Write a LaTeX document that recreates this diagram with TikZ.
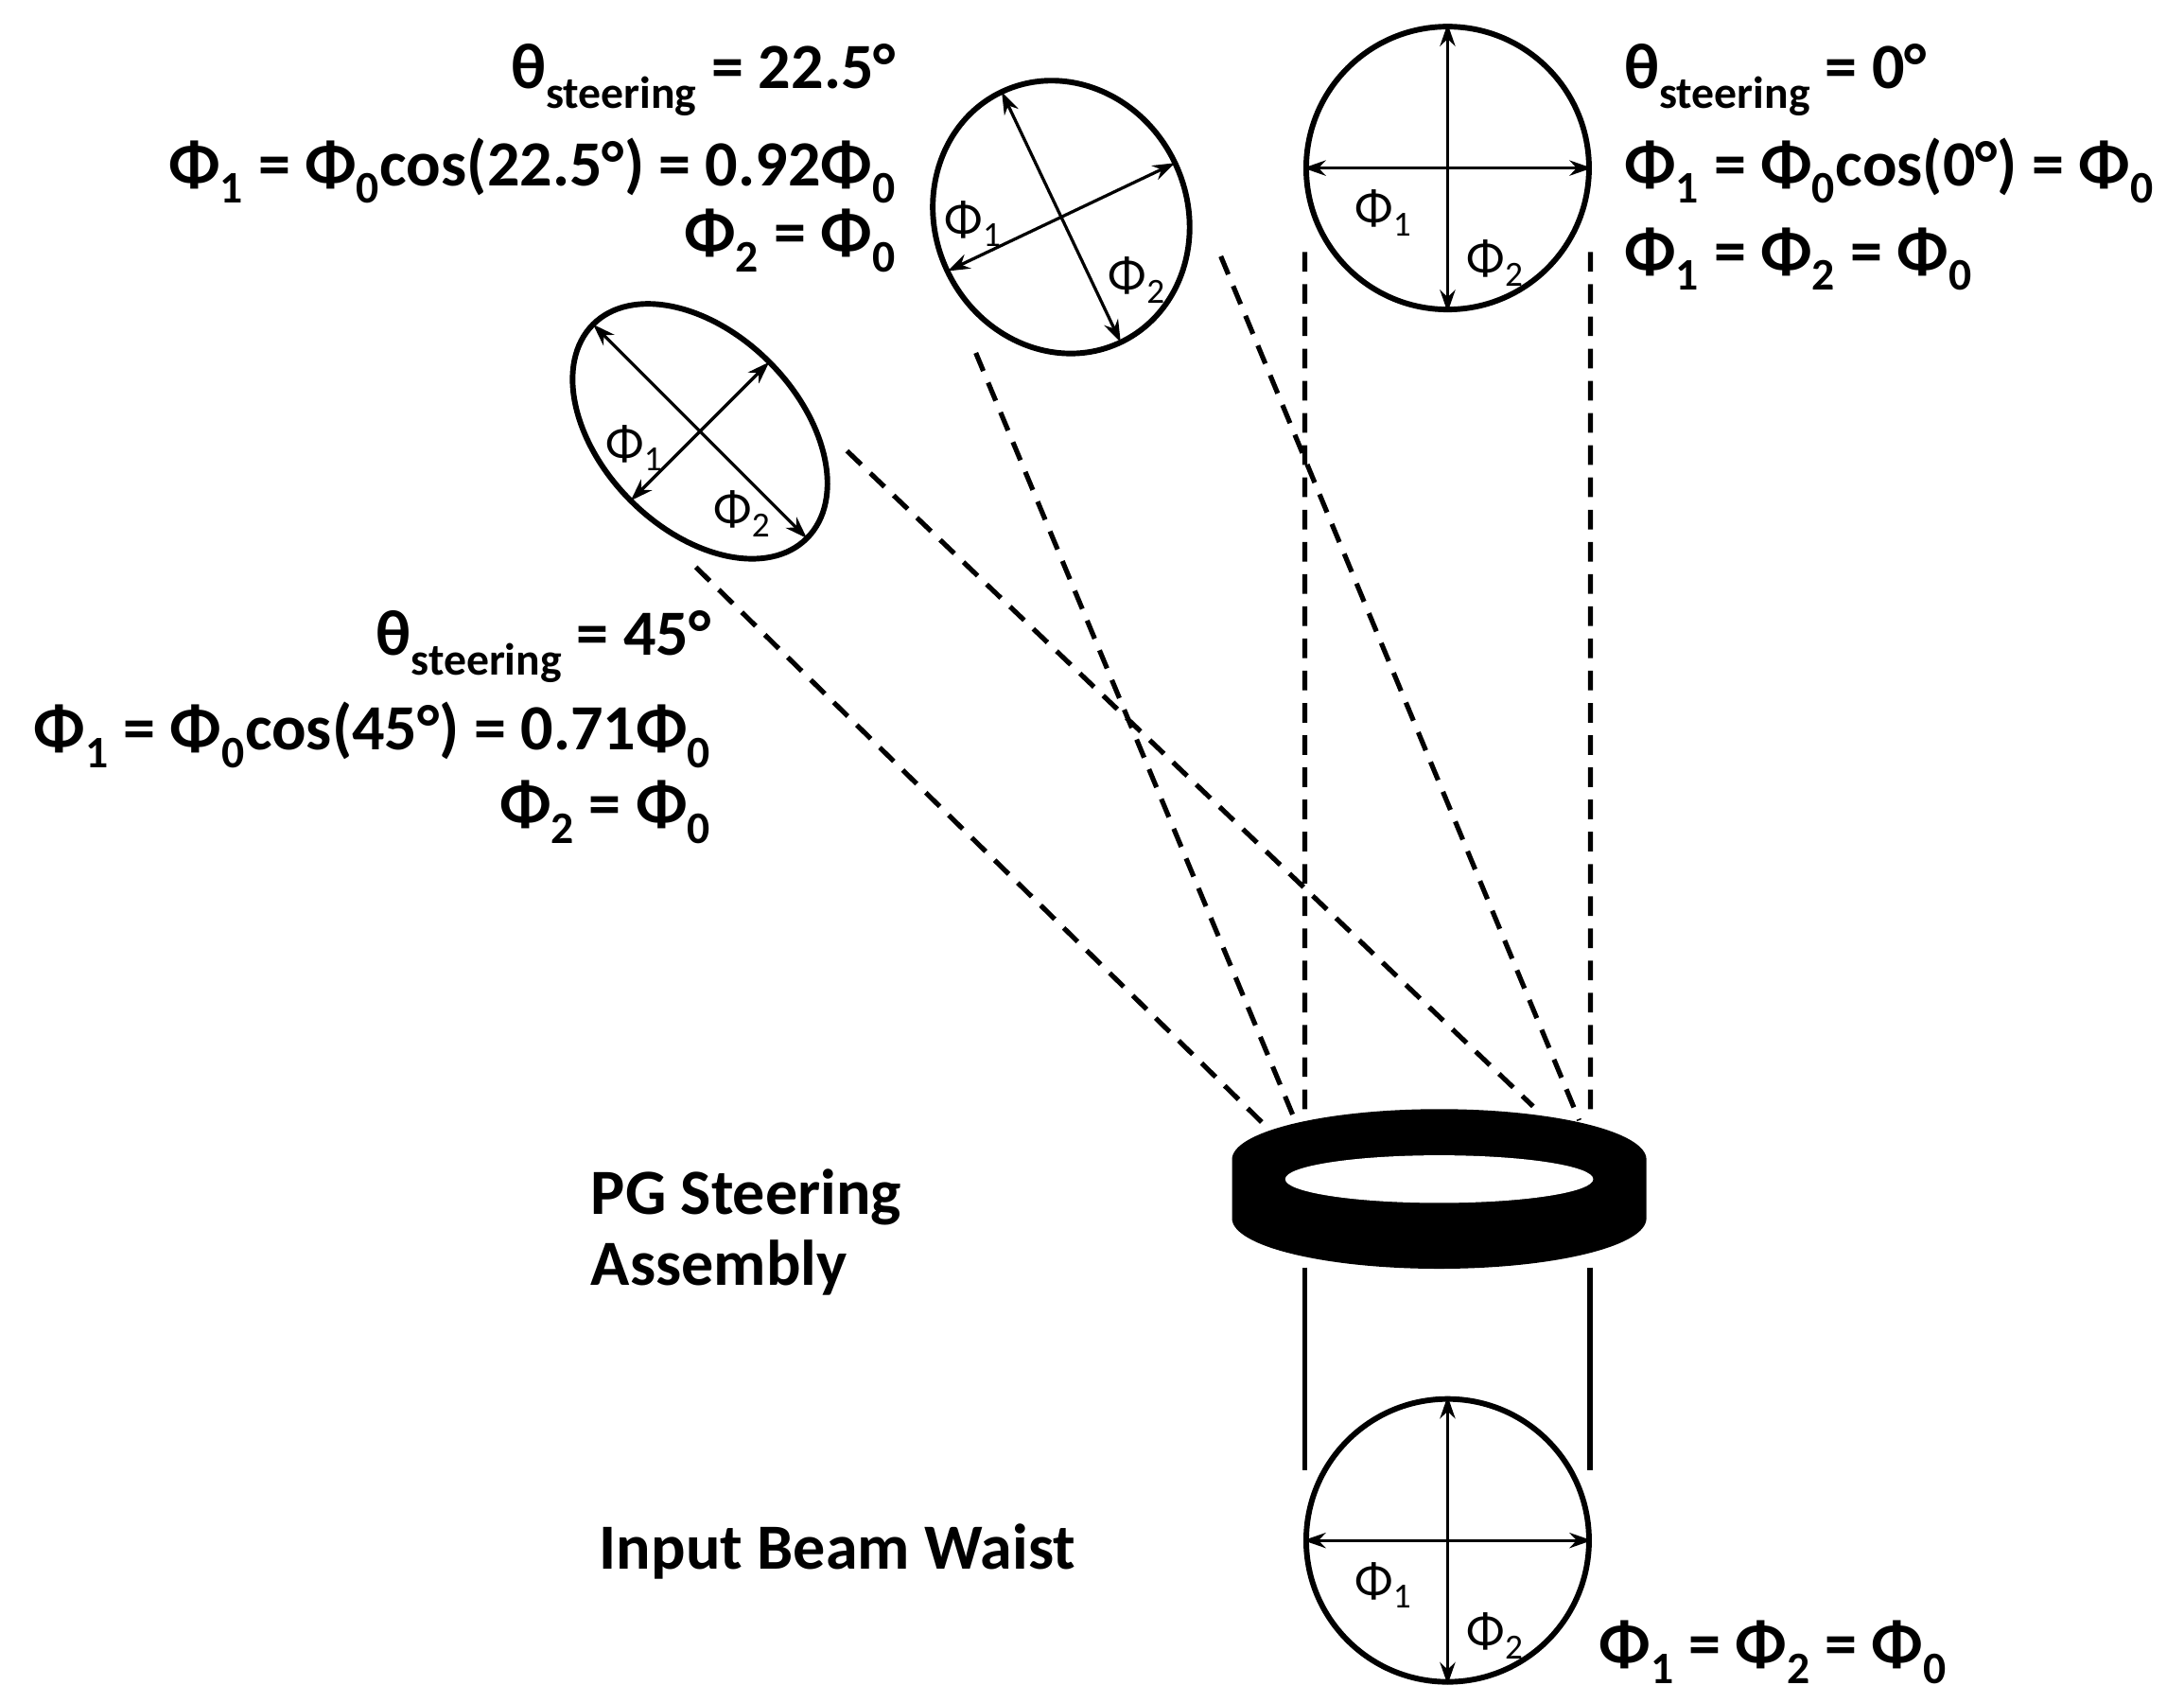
\documentclass[tikz,border=0pt]{standalone}
\usepackage{fontspec}
\setmainfont{Carlito}
\usetikzlibrary{arrows.meta}
\begin{document}
\begin{tikzpicture}[x=1pt,y=-1pt,
  lab/.style={font=\fontsize{46}{52}\selectfont\bfseries,inner sep=0pt},
  sm/.style={font=\fontsize{36}{40}\selectfont,inner sep=0pt},
  beam/.style={line width=4pt},
  arr/.style={line width=2.2pt,{Stealth[length=16pt,width=11pt]}-{Stealth[length=16pt,width=11pt]}},
  dsh/.style={line width=3.5pt,dash pattern=on 14pt off 9pt}]
\useasboundingbox (0,0) rectangle (1560,1216);
% top-right circle
\node[draw,beam,circle,minimum size=202pt] (c0) at (1034,120) {};
\draw[arr] (c0.north) -- (c0.south);
\draw[arr] (c0.west) -- (c0.east);
\node[sm] at (988,152) {Φ\textsubscript{1}};
\node[sm] at (1068,188) {Φ\textsubscript{2}};
% bottom circle
\node[draw,beam,circle,minimum size=202pt] (cb) at (1034,1100) {};
\draw[arr] (cb.north) -- (cb.south);
\draw[arr] (cb.west) -- (cb.east);
\node[sm] at (988,1132) {Φ\textsubscript{1}};
\node[sm] at (1068,1168) {Φ\textsubscript{2}};
% 22.5 ellipse
\begin{scope}[shift={(758,155)},rotate=-64.6]
\draw[beam] (0,0) ellipse [x radius=99,y radius=90];
\coordinate (m1) at (-99,0); \coordinate (m2) at (99,0);
\coordinate (m3) at (0,-90); \coordinate (m4) at (0,90);
\draw[arr] (m1) -- (m2);
\draw[arr] (m3) -- (m4);
\end{scope}
\node[sm] at (695,160) {Φ\textsubscript{1}};
\node[sm] at (812,200) {Φ\textsubscript{2}};
% 45 ellipse
\begin{scope}[shift={(500,308)},rotate=-45]
\draw[beam] (0,0) ellipse [x radius=108,y radius=70];
\coordinate (l1) at (-108,0); \coordinate (l2) at (108,0);
\coordinate (l3) at (0,-70); \coordinate (l4) at (0,70);
\draw[arr] (l1) -- (l2);
\draw[arr] (l3) -- (l4);
\end{scope}
\node[sm] at (453,320) {Φ\textsubscript{1}};
\node[sm] at (530,367) {Φ\textsubscript{2}};
% ring
\fill (880,828) -- (880,870) arc[start angle=180,end angle=0,x radius=148,y radius=36] -- (1176,828) arc[start angle=360,end angle=180,x radius=148,y radius=36] -- cycle;
\fill[white] (1028,842) ellipse [x radius=110,y radius=17];
% solid lines
\coordinate (s1) at (932,905); \coordinate (s2) at (932,1050);
\coordinate (s3) at (1136,905); \coordinate (s4) at (1136,1050);
\draw[line width=4pt] (s1)--(s2) (s3)--(s4);
% dashed
\coordinate (d1) at (932,180); \coordinate (d2) at (932,800);
\coordinate (d3) at (1136,180); \coordinate (d4) at (1136,800);
\coordinate (d5) at (697,252); \coordinate (d6) at (925,800);
\coordinate (d7) at (872,183); \coordinate (d8) at (1128,800);
\coordinate (d9) at (497,405); \coordinate (d10) at (905,805);
\coordinate (d11) at (605,322); \coordinate (d12) at (1095,790);
\draw[dsh] (d1)--(d2) (d3)--(d4) (d5)--(d6) (d7)--(d8) (d9)--(d10) (d11)--(d12);
% texts
\node[lab,anchor=west] (t1) at (1160,57) {θ\textsubscript{steering} = 0°};
\node[lab,anchor=west] (t2) at (1160,122) {Φ\textsubscript{1} = Φ\textsubscript{0}cos(0°) = Φ\textsubscript{0}};
\node[lab,anchor=west] (t3) at (1160,185) {Φ\textsubscript{1} = Φ\textsubscript{2} = Φ\textsubscript{0}};
\node[lab,anchor=east] (t4) at (640,57) {θ\textsubscript{steering} = 22.5°};
\node[lab,anchor=east] (t5) at (640,122) {Φ\textsubscript{1} = Φ\textsubscript{0}cos(22.5°) = 0.92Φ\textsubscript{0}};
\node[lab,anchor=east] (t6) at (640,172) {Φ\textsubscript{2} = Φ\textsubscript{0}};
\node[lab,anchor=east] (t7) at (508,462) {θ\textsubscript{steering} = 45°};
\node[lab,anchor=east] (t8) at (508,525) {Φ\textsubscript{1} = Φ\textsubscript{0}cos(45°) = 0.71Φ\textsubscript{0}};
\node[lab,anchor=east] (t9) at (508,580) {Φ\textsubscript{2} = Φ\textsubscript{0}};
\node[lab,anchor=west] (t10) at (422,855) {PG Steering};
\node[lab,anchor=west] (t11) at (422,905) {Assembly};
\node[lab,anchor=west] (t12) at (428,1108) {Input Beam Waist};
\node[lab,anchor=west] (t13) at (1142,1180) {Φ\textsubscript{1} = Φ\textsubscript{2} = Φ\textsubscript{0}};
\end{tikzpicture}
\end{document}
